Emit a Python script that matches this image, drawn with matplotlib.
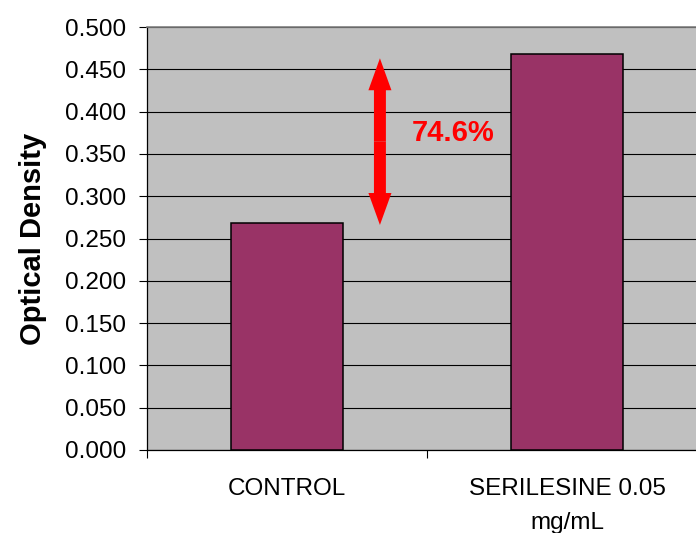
import matplotlib
matplotlib.use("Agg")
import matplotlib.pyplot as plt
import numpy as np

plt.rcParams['font.family'] = ['Liberation Sans', 'DejaVu Sans']

# 데이터
categories = ['CONTROL', 'SERILESINE 0.05\nmg/mL']
optical_density = [0.268, 0.468]
y_ticks = np.arange(0, 0.501, 0.05)
increase_label = '74.6%'
arrow_low, arrow_high = 0.266, 0.463

fig = plt.figure(figsize=(6.96, 5.33), dpi=100)
ax = fig.add_axes([147 / 696, 1 - 450 / 533, 1 - 147 / 696, (450 - 27) / 533])
ax.set_facecolor('#c0c0c0')

x = np.arange(len(categories))
ax.bar(x, optical_density, width=0.4, color='#993366', edgecolor='black',
       linewidth=1.1, zorder=3)

ax.set_xlim(-0.5, 1.461)
ax.set_ylim(0, 0.5)
ax.set_yticks(y_ticks)
ax.set_yticklabels([f'{v:.3f}' for v in y_ticks], fontsize=17.5)
ax.yaxis.grid(True, color='black', linewidth=0.8, zorder=0)
ax.set_axisbelow(True)

# 카테고리 경계에 눈금, 가운데에 라벨
ax.set_xticks([-0.5, 0.5])
ax.set_xticklabels(['', ''])
ax.set_xticks(x, minor=True)
ax.set_xticklabels(categories, minor=True, fontsize=17.5, linespacing=1.7)
ax.tick_params(axis='x', which='minor', length=0, pad=20)
ax.tick_params(axis='x', which='major', length=6, width=0.8, direction='out')
ax.tick_params(axis='y', length=6, width=0.8, direction='out', pad=9)

ax.set_ylabel('Optical Density', fontsize=21, fontweight='bold', labelpad=13)

for s in ['left', 'bottom']:
    ax.spines[s].set_color('black')
    ax.spines[s].set_linewidth(0.9)
ax.spines['top'].set_color('#808080')
ax.spines['top'].set_linewidth(1.2)
ax.spines['right'].set_visible(False)

# 양방향 화살표
arrow_x = 0.332
mid = (arrow_low + arrow_high) / 2
for end in [arrow_high, arrow_low]:
    ax.annotate('', xy=(arrow_x, end), xytext=(arrow_x, mid),
                arrowprops=dict(arrowstyle='simple,head_length=2.3,head_width=1.66,tail_width=0.86',
                                mutation_scale=10, color='red', lw=0,
                                shrinkA=0, shrinkB=0),
                zorder=4)

ax.text(0.593, 0.3747, increase_label, color='red', fontsize=21, fontweight='bold',
        ha='center', va='center', zorder=5)

fig.savefig('out.png', dpi=100)
